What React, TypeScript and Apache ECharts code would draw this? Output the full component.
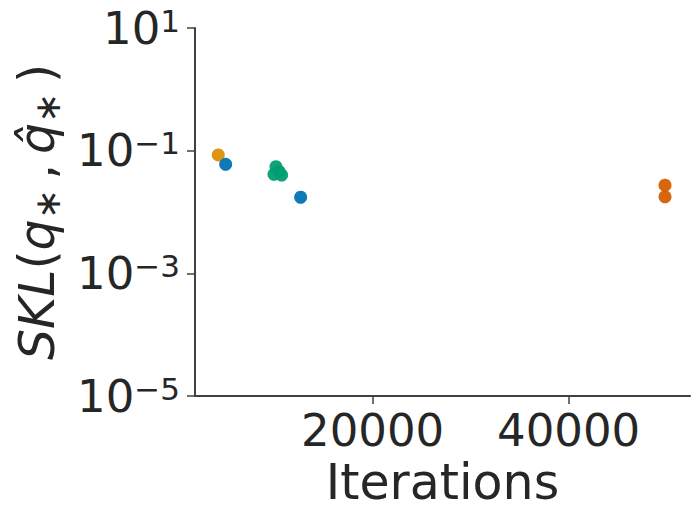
import React, { useEffect, useRef } from "react";
import * as echarts from "echarts";

const blueX = [5000, 12650];
const blueY = [0.06, 0.0174];
const orangeX = [4245];
const orangeY = [0.085];
const greenX = [10130, 9930, 10470, 10710];
const greenY = [0.0547, 0.0412, 0.0454, 0.0401];
const redX = [49830, 49830];
const redY = [0.0273, 0.0177];

const xTicks = [20000, 40000];
const yTicks = [1e-5, 1e-3, 1e-1, 10];

const FONT = "DejaVu Sans";
const TXT = "#262626";
const AX = "#404040";

const pts = (xs: number[], ys: number[]) => xs.map((x, i) => [x, ys[i]]);

export default function App() {
  const ref = useRef<HTMLDivElement>(null);
  useEffect(() => {
    const chart = echarts.init(ref.current!, null, { renderer: "svg" });
    const mk = (name: string, xs: number[], ys: number[], color: string) => ({
      name,
      type: "scatter",
      data: pts(xs, ys),
      symbolSize: 13,
      itemStyle: { color, opacity: 0.95 },
    });
    chart.setOption({
      animation: false,
      grid: { left: 195, right: 10, top: 28, bottom: 123 },
      xAxis: {
        type: "value",
        min: 1870,
        max: 52380,
        name: "Iterations",
        nameLocation: "middle",
        nameGap: 62,
        nameTextStyle: { fontFamily: FONT, fontSize: 49, color: TXT },
        axisLine: { show: true, lineStyle: { color: AX, width: 2 } },
        axisTick: { show: true, length: 8, lineStyle: { color: AX, width: 1.5 }, customValues: xTicks },
        axisLabel: {
          customValues: xTicks,
          margin: 12,
          fontFamily: FONT,
          fontSize: 45,
          color: TXT,
          formatter: (v: number) => String(v),
        },
        splitLine: { show: false },
      },
      yAxis: {
        type: "log",
        logBase: 10,
        min: 1e-5,
        max: 10,
        name: "{i|SKL}{n|(}{i|q}{s|∗}{n|\u2009,\u2009}{i|q̂}{s|∗}{n|\u2009)}",
        nameLocation: "middle",
        nameRotate: 90,
        nameGap: 130,
        nameTextStyle: {
          fontFamily: FONT,
          color: TXT,
          rich: {
            i: { fontFamily: FONT, fontSize: 49, fontStyle: "italic", color: TXT, lineHeight: 56 },
            n: { fontFamily: FONT, fontSize: 49, color: TXT, lineHeight: 56 },
            s: { fontFamily: FONT, fontSize: 36, color: TXT, verticalAlign: "bottom", lineHeight: 42 },
          },
        },
        axisLine: { show: true, lineStyle: { color: AX, width: 2 } },
        axisTick: { show: true, length: 8, lineStyle: { color: AX, width: 1.5 }, customValues: yTicks },
        axisLabel: {
          customValues: yTicks,
          margin: 15,
          color: TXT,
          formatter: (v: number) => {
            const e = Math.round(Math.log10(v));
            return `{b|10}{s|${e < 0 ? "−" + -e : e}}`;
          },
          rich: {
            b: { fontFamily: FONT, fontSize: 45, color: TXT, lineHeight: 46 },
            s: { fontFamily: FONT, fontSize: 31, color: TXT, verticalAlign: "top", lineHeight: 28 },
          },
        },
        splitLine: { show: false },
        minorTick: { show: false },
      },
      series: [
        mk("a", orangeX, orangeY, "#de8f05"),
        mk("b", blueX, blueY, "#0173b2"),
        mk("c", greenX, greenY, "#029e73"),
        mk("d", redX, redY, "#d55e00"),
      ],
    });
    return () => chart.dispose();
  }, []);
  return <div ref={ref} style={{ width: 700, height: 519, margin: -8 }} />;
}
